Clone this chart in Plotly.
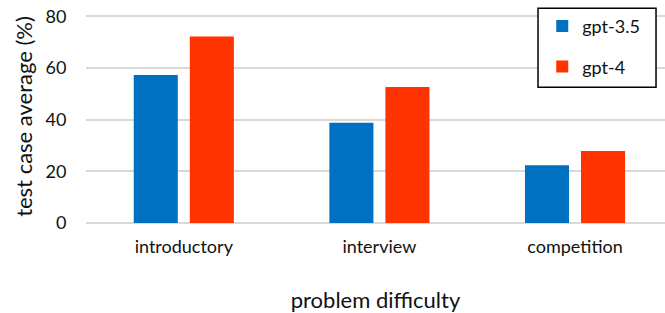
import plotly.graph_objects as go

categories = ["introductory", "interview", "competition"]
gpt35 = [57.3, 38.8, 22.4]
gpt4 = [72.2, 52.7, 27.9]
y_ticks = [0, 20, 40, 60, 80]

FONT = "Lato, Carlito, Calibri, sans-serif"

fig = go.Figure()
fig.add_trace(go.Bar(name="gpt-3.5", x=categories, y=gpt35, marker_color="#0070C0",
                     marker_line_width=0, legendgroup="a"))
fig.add_trace(go.Bar(name="gpt-4", x=categories, y=gpt4, marker_color="#FF3300",
                     marker_line_width=0, legendgroup="b"))

fig.update_layout(
    width=665, height=313,
    margin=dict(l=86, r=0, t=10, b=90),
    paper_bgcolor="white", plot_bgcolor="white",
    font=dict(family=FONT, size=18, color="#111111"),
    barmode="group", bargap=0.427, bargroupgap=0.214,
    legend=dict(x=0.788, y=1.01, xanchor="left", yanchor="top",
                borderwidth=0, bgcolor="rgba(0,0,0,0)",
                tracegroupgap=14, font=dict(size=18), entrywidth=90,
                traceorder="grouped"),
    xaxis=dict(range=[-0.5, 2.46], showline=False, ticks="outside",
               ticklen=7, tickcolor="rgba(0,0,0,0)", automargin=False,
               title=dict(text="problem difficulty", standoff=37),
               tickfont=dict(size=18)),
    yaxis=dict(range=[0, 82.5], tickvals=y_ticks, showgrid=True,
               gridcolor="#D9D9D9", gridwidth=1.5, zeroline=True,
               zerolinecolor="#D9D9D9", zerolinewidth=1.5, showline=False,
               ticks="outside", ticklen=15, tickcolor="rgba(0,0,0,0)",
               automargin=False,
               title=dict(text="test case average (%)", standoff=6),
               tickfont=dict(size=18)),
    shapes=[dict(type="rect", xref="paper", yref="paper",
                 x0=0.7807, x1=0.9845, y0=0.637, y1=1.008,
                 line=dict(color="black", width=1.5),
                 fillcolor="white", layer="above")],
)

fig.write_html("out.html", post_script="document.body.style.margin='0';",
               config={"displayModeBar": False})
